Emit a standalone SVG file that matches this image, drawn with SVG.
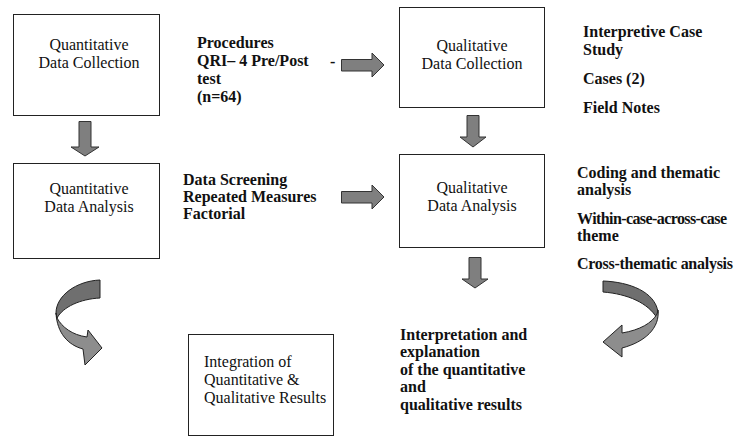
<svg xmlns="http://www.w3.org/2000/svg" width="734" height="437" viewBox="0 0 734 437">
<style>
.box{fill:#fff;stroke:#222;stroke-width:1}
.t{font-family:"Liberation Serif","Times New Roman",serif;font-size:16px;fill:#111}
.c{text-anchor:middle}
.b{font-weight:bold}
.arr{fill:#7f7f7f;stroke:#333;stroke-width:1;stroke-linejoin:miter}
.dk{fill:#6f6f6f;stroke:#222;stroke-width:1}
.lt{fill:#8d8d8d;stroke:#222;stroke-width:1}
</style>
<rect width="734" height="437" fill="#fff"/>

<g id="quant-collection">
<rect class="box" x="13.5" y="14.5" width="146" height="101"/>
<text class="t c" x="89" y="50">Quantitative</text>
<text class="t c" x="89" y="68">Data Collection</text>
</g>

<g id="quant-analysis">
<rect class="box" x="13.5" y="163.5" width="146" height="95"/>
<text class="t c" x="89" y="194">Quantitative</text>
<text class="t c" x="89" y="212">Data Analysis</text>
</g>

<g id="qual-collection">
<rect class="box" x="399.5" y="7.5" width="145" height="100"/>
<text class="t c" x="472" y="51">Qualitative</text>
<text class="t c" x="472" y="69">Data Collection</text>
</g>

<g id="qual-analysis">
<rect class="box" x="399.5" y="154.5" width="145" height="93"/>
<text class="t c" x="472" y="193">Qualitative</text>
<text class="t c" x="472" y="211">Data Analysis</text>
</g>

<g id="integration">
<rect class="box" x="188.5" y="334.5" width="145" height="101"/>
<text class="t" x="204" y="367">Integration of</text>
<text class="t" x="204" y="385">Quantitative &amp;</text>
<text class="t" x="204" y="403">Qualitative Results</text>
</g>

<g id="procedures-notes">
<text class="t b" x="197" y="48">Procedures</text>
<text class="t b" x="197" y="66">QRI– 4 Pre/Post</text>
<text class="t b" x="197" y="84">test</text>
<text class="t b" x="197" y="102">(n=64)</text>
<text class="t b" x="330" y="67">-</text>
</g>

<g id="analysis-notes">
<text class="t b" x="183" y="185">Data Screening</text>
<text class="t b" x="183" y="202">Repeated Measures</text>
<text class="t b" x="183" y="219">Factorial</text>
</g>

<g id="case-notes">
<text class="t b" x="583" y="37">Interpretive Case</text>
<text class="t b" x="583" y="55">Study</text>
<text class="t b" x="583" y="84">Cases (2)</text>
<text class="t b" x="583" y="113">Field Notes</text>
</g>

<g id="coding-notes">
<text class="t b" x="577" y="178">Coding and thematic</text>
<text class="t b" x="577" y="195">analysis</text>
<text class="t b" x="577" y="224" textLength="150" lengthAdjust="spacing">Within-case-across-case</text>
<text class="t b" x="577" y="241">theme</text>
<text class="t b" x="577" y="269" textLength="156" lengthAdjust="spacing">Cross-thematic analysis</text>
</g>

<g id="interpretation">
<text class="t b" x="400" y="340">Interpretation and</text>
<text class="t b" x="400" y="357">explanation</text>
<text class="t b" x="400" y="375">of the quantitative</text>
<text class="t b" x="400" y="392">and</text>
<text class="t b" x="400" y="410">qualitative results</text>
</g>

<g id="connectors">
<path class="arr" d="M341.5,59.5 H372 V53 L384,65 L372,77 V71 H341.5 Z"/>
<path class="arr" d="M341.5,191.5 H372 V185 L384,197 L372,209 V203 H341.5 Z"/>
<path class="arr" d="M79,121.5 H91 V147 H99 L85,156 L71,147 H79 Z"/>
<path class="arr" d="M467,115.5 H479 V137 H486 L473,147 L460,137 H467 Z"/>
<path class="arr" d="M469,257.5 H481 V279 H488 L475,288 L462,279 H469 Z"/>
<path class="dk" d="M100,280 C76,281 56,296 56,313 L57,318 C63,307 80,299 100,298 Z"/>
<path class="lt" d="M56,313 C57,333 68,345 83,349 L85,365 L102,348 L88,330 L87,337 C72,335 62,327 57,318 Z"/>
<path class="dk" d="M603,281 C630,282 655,292 658,312 L657,318 C648,303 628,294 603,292 Z"/>
<path class="lt" d="M658,310 C660,328 645,342 622,348 L622,357 L603,342 L622,325 L622,333 C640,330 652,323 657,314 Z"/>
</g>
</svg>
